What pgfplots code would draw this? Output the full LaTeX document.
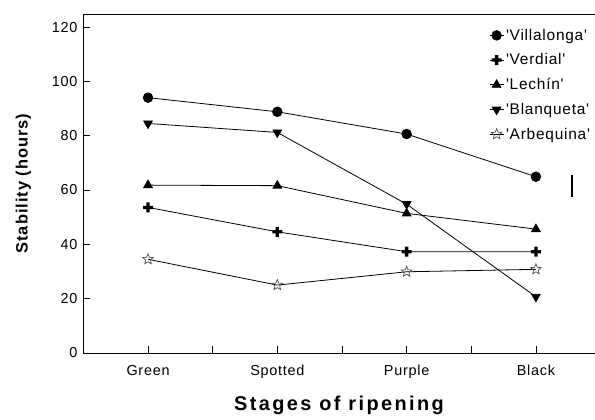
\documentclass[border=0pt]{standalone}
\usepackage{fontspec}
\setmainfont{Liberation Sans}
\newfontfamily\tickfont[LetterSpace=5]{Liberation Sans}
\newfontfamily\xlabfont[LetterSpace=12]{Liberation Sans}
\newfontfamily\ylabfont[LetterSpace=6]{Liberation Sans}
\usepackage{pgfplots}
\pgfplotsset{compat=1.18}

% open five-pointed star
\pgfdeclareplotmark{ostar}{%
  \pgfpathmoveto{\pgfpointpolar{90}{\pgfplotmarksize}}%
  \pgfpathlineto{\pgfpointpolar{126}{0.45\pgfplotmarksize}}%
  \pgfpathlineto{\pgfpointpolar{162}{\pgfplotmarksize}}%
  \pgfpathlineto{\pgfpointpolar{198}{0.45\pgfplotmarksize}}%
  \pgfpathlineto{\pgfpointpolar{234}{\pgfplotmarksize}}%
  \pgfpathlineto{\pgfpointpolar{270}{0.45\pgfplotmarksize}}%
  \pgfpathlineto{\pgfpointpolar{306}{\pgfplotmarksize}}%
  \pgfpathlineto{\pgfpointpolar{342}{0.45\pgfplotmarksize}}%
  \pgfpathlineto{\pgfpointpolar{18}{\pgfplotmarksize}}%
  \pgfpathlineto{\pgfpointpolar{54}{0.45\pgfplotmarksize}}%
  \pgfpathclose\pgfusepathqstroke}
% bold plus, filled
\pgfdeclareplotmark{bplus}{%
  \pgfmathsetlengthmacro\a{\pgfplotmarksize}%
  \pgfmathsetlengthmacro\b{0.33*\pgfplotmarksize}%
  \pgfpathmoveto{\pgfpoint{-\b}{\a}}%
  \pgfpathlineto{\pgfpoint{\b}{\a}}%
  \pgfpathlineto{\pgfpoint{\b}{\b}}%
  \pgfpathlineto{\pgfpoint{\a}{\b}}%
  \pgfpathlineto{\pgfpoint{\a}{-\b}}%
  \pgfpathlineto{\pgfpoint{\b}{-\b}}%
  \pgfpathlineto{\pgfpoint{\b}{-\a}}%
  \pgfpathlineto{\pgfpoint{-\b}{-\a}}%
  \pgfpathlineto{\pgfpoint{-\b}{-\b}}%
  \pgfpathlineto{\pgfpoint{-\a}{-\b}}%
  \pgfpathlineto{\pgfpoint{-\a}{\b}}%
  \pgfpathlineto{\pgfpoint{-\b}{\b}}%
  \pgfpathclose\pgfusepathqfill}

\begin{document}
\begin{tikzpicture}
\path[use as bounding box] (0,0) rectangle (595bp,420bp);
\begin{axis}[
  at={(83bp,67bp)}, anchor=south west,
  scale only axis, width=512bp, height=339bp,
  xmin=-0.503, xmax=3.457, ymin=0, ymax=124.8,
  axis line style={draw=none},
  xtick={0,1,2,3}, xticklabels={Green,Spotted,Purple,Black},
  minor xtick={-0.5,0.5,1.5,2.5},
  ytick={0,20,...,120},
  tick align=inside, xtick pos=bottom, ytick pos=left,
  major tick length=7bp, minor tick length=7bp,
  tick style={black, line width=0.6bp},
  /pgf/number format/assume math mode=true,
  tick label style={font=\fontsize{14.5}{16}\tickfont},
  xticklabel style={yshift=-9bp},
  yticklabel style={xshift=-2bp},
  xlabel={Stages of ripening},
  ylabel={Stability (hours)},
  xlabel style={font=\fontsize{20}{22}\xlabfont\bfseries, yshift=-10bp},
  ylabel style={font=\fontsize{16.5}{18}\ylabfont\bfseries, yshift=14bp},
  legend style={draw=none, fill=none, font=\fontsize{15.5}{17}\tickfont,
    at={(axis description cs:0.793,0.962)}, anchor=north west,
    row sep=8bp, inner sep=0pt},
  legend cell align=left,
  legend image code/.code={%
    \draw[mark repeat=2, mark phase=2] plot coordinates {(0bp,0bp) (7bp,0bp) (14bp,0bp)};},
  every axis plot/.append style={black, line width=0.8bp},
  clip=false,
]
\addplot[mark=*, mark size=4.8bp] coordinates {
  (0,94.0) (1,88.8) (2,80.6) (3,64.9)};
\addlegendentry{'Villalonga'}
\addplot[mark=bplus, mark size=5bp] coordinates {
  (0,53.6) (1,44.6) (2,37.3) (3,37.3)};
\addlegendentry{'Verdial'}
\addplot[mark=triangle*, mark size=5bp] coordinates {
  (0,61.8) (1,61.6) (2,51.4) (3,45.6)};
\addlegendentry{'Lechín'}
\addplot[mark=triangle*, mark size=5bp, mark options={rotate=180}] coordinates {
  (0,84.5) (1,81.2) (2,54.8) (3,20.7)};
\addlegendentry{'Blanqueta'}
\addplot[mark=ostar, mark size=5.5bp, mark options={line width=0.7bp, draw=black!70}] coordinates {
  (0,34.5) (1,25.0) (2,29.9) (3,30.8)};
\addlegendentry{'Arbequina'}
% error bar at right
\addplot[no marks, line width=1.6bp, forget plot] coordinates {(3.277,57.5) (3.277,65.5)};
\draw[line width=0.8bp] (rel axis cs:0,0) -- (rel axis cs:0,1) -- (rel axis cs:1,1);
\draw[line width=0.8bp] (rel axis cs:0,0) -- (rel axis cs:1,0);
\end{axis}
\end{tikzpicture}
\end{document}
